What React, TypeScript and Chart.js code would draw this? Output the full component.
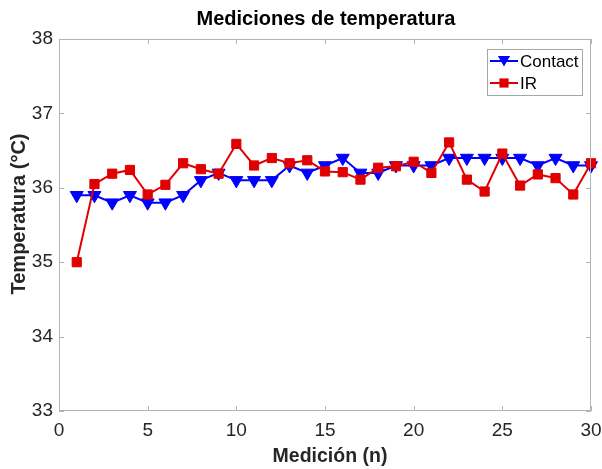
import React, { useEffect, useRef } from "react";
import { Chart, registerables } from "chart.js";

Chart.register(...registerables);

const measurements: number[] = Array.from({ length: 30 }, (_, i) => i + 1);
const contactTemps: number[] = [
  35.9, 35.9, 35.8, 35.9, 35.8, 35.8, 35.9, 36.1, 36.2, 36.1,
  36.1, 36.1, 36.3, 36.2, 36.3, 36.4, 36.2, 36.2, 36.3, 36.3,
  36.3, 36.4, 36.4, 36.4, 36.4, 36.4, 36.3, 36.4, 36.3, 36.3,
];
const irTemps: number[] = [
  35.0, 36.05, 36.19, 36.24, 35.91, 36.04, 36.33, 36.25, 36.19, 36.59,
  36.3, 36.4, 36.33, 36.37, 36.22, 36.21, 36.11, 36.27, 36.29, 36.35,
  36.2, 36.61, 36.11, 35.95, 36.46, 36.03, 36.18, 36.13, 35.91, 36.33,
];
const xTicks: number[] = [0, 5, 10, 15, 20, 25, 30];
const yTicks: number[] = [33, 34, 35, 36, 37, 38];
const seriesNames: string[] = ["Contact", "IR"];
const chartTitle = "Mediciones de temperatura";
const xTitle = "Medición (n)";
const yTitle = "Temperatura (°C)";

const FONT = "'Liberation Sans', Arial, Helvetica, sans-serif";
const BLUE = "#0000ff";
const RED = "#e00000";
const AXIS = "#b3b3b3";
const TEXT = "#262626";

const framePlugin = {
  id: "matlabFrame",
  afterDraw(chart: any) {
    const { ctx, chartArea } = chart;
    const { left, right, top, bottom } = chartArea;
    const xs = chart.scales.x;
    const ys = chart.scales.y;
    ctx.save();
    ctx.strokeStyle = AXIS;
    ctx.lineWidth = 1;
    ctx.beginPath();
    ctx.moveTo(left + 0.5, top + 0.5);
    ctx.lineTo(right - 0.5, top + 0.5);
    ctx.lineTo(right - 0.5, bottom - 0.5);
    ctx.moveTo(left + 0.5, top + 0.5);
    ctx.lineTo(left + 0.5, bottom - 0.5);
    ctx.lineTo(right - 0.5, bottom - 0.5);
    const tl = 5;
    xTicks.forEach((v) => {
      const px = Math.round(xs.getPixelForValue(v)) + 0.5;
      ctx.moveTo(px, bottom);
      ctx.lineTo(px, bottom - tl);
      ctx.moveTo(px, top);
      ctx.lineTo(px, top + tl);
    });
    yTicks.forEach((v) => {
      const py = Math.round(ys.getPixelForValue(v)) + 0.5;
      ctx.moveTo(left, py);
      ctx.lineTo(left + tl, py);
      ctx.moveTo(right, py);
      ctx.lineTo(right - tl, py);
    });
    ctx.stroke();

    // titles
    ctx.textBaseline = "alphabetic";
    ctx.textAlign = "center";
    ctx.fillStyle = "#000000";
    ctx.font = `bold 20px ${FONT}`;
    ctx.fillText(chartTitle, 326, 25);
    ctx.fillStyle = TEXT;
    ctx.font = `bold 19.5px ${FONT}`;
    ctx.fillText(xTitle, 330, 462);
    ctx.save();
    ctx.translate(25, 214);
    ctx.rotate(-Math.PI / 2);
    ctx.font = `bold 20px ${FONT}`;
    ctx.fillText(yTitle, 0, 0);
    ctx.restore();

    // legend box
    const bx = 487, by = 49, bw = 95, bh = 46;
    ctx.fillStyle = "#ffffff";
    ctx.fillRect(bx, by, bw, bh);
    ctx.strokeStyle = "#a6a6a6";
    ctx.lineWidth = 1;
    ctx.strokeRect(bx + 0.5, by + 0.5, bw, bh);
    const rows = [
      { name: seriesNames[0], color: BLUE, style: "triangle", r: 7, y: 61 },
      { name: seriesNames[1], color: RED, style: "rect", r: 6.5, y: 83 },
    ];
    rows.forEach((row) => {
      ctx.strokeStyle = row.color;
      ctx.lineWidth = 2;
      ctx.beginPath();
      ctx.moveTo(490, row.y);
      ctx.lineTo(518, row.y);
      ctx.stroke();
      ctx.fillStyle = row.color;
      if (row.style === "triangle") {
        const cx = 504, cy = row.y - 1.5;
        const r = row.r;
        ctx.beginPath();
        ctx.moveTo(cx, cy + r);
        ctx.lineTo(cx - r * 0.866, cy - r / 2);
        ctx.lineTo(cx + r * 0.866, cy - r / 2);
        ctx.closePath();
        ctx.fill();
      } else {
        const s = row.r * Math.SQRT1_2;
        ctx.fillRect(504 - s, row.y - s, 2 * s, 2 * s);
      }
      ctx.fillStyle = "#000000";
      ctx.font = `17px ${FONT}`;
      ctx.textAlign = "left";
      ctx.textBaseline = "middle";
      ctx.fillText(row.name, 520, row.y + 1);
    });
    ctx.restore();
  },
};

export default function App() {
  const canvasRef = useRef<HTMLCanvasElement | null>(null);

  useEffect(() => {
    document.body.style.margin = "0";
    const canvas = canvasRef.current;
    if (!canvas) return;
    const chart = new Chart(canvas, {
      type: "line",
      data: {
        labels: measurements,
        datasets: [
          {
            label: seriesNames[1],
            data: measurements.map((m, i) => ({ x: m, y: irTemps[i] })),
            borderColor: RED,
            backgroundColor: RED,
            borderWidth: 2,
            pointStyle: "rect",
            pointRadius: 6.5,
            pointBorderWidth: 1,
            pointBackgroundColor: RED,
            pointBorderColor: RED,
            tension: 0,
            clip: false,
          },
          {
            label: seriesNames[0],
            data: measurements.map((m, i) => ({ x: m, y: contactTemps[i] })),
            borderColor: BLUE,
            backgroundColor: BLUE,
            borderWidth: 2,
            pointStyle: "triangle",
            pointRotation: 180,
            pointRadius: 7.5,
            pointBorderWidth: 1,
            pointBackgroundColor: BLUE,
            pointBorderColor: BLUE,
            tension: 0,
            clip: false,
          },
        ],
      },
      options: {
        animation: false,
        responsive: true,
        maintainAspectRatio: false,
        layout: { padding: { left: 0, right: 11, top: 39, bottom: 0 } },
        plugins: {
          legend: { display: false },
          tooltip: { enabled: false },
          title: { display: false },
        },
        scales: {
          x: {
            type: "linear",
            min: 0,
            max: 30,
            afterBuildTicks: (scale: any) => {
              scale.ticks = xTicks.map((v) => ({ value: v }));
            },
            afterFit: (scale: any) => {
              scale.height = 58;
              scale.paddingLeft = 0;
              scale.paddingRight = 0;
            },
            grid: { display: false, drawTicks: false },
            border: { display: false },
            ticks: {
              color: TEXT,
              font: { family: FONT, size: 19, lineHeight: 1.2 },
              padding: 8,
              maxRotation: 0,
              autoSkip: false,
            },
            title: { display: false },
          },
          y: {
            type: "linear",
            min: 33,
            max: 38,
            afterBuildTicks: (scale: any) => {
              scale.ticks = yTicks.map((v) => ({ value: v }));
            },
            afterFit: (scale: any) => {
              scale.width = 59;
              scale.paddingTop = 0;
              scale.paddingBottom = 0;
            },
            grid: { display: false, drawTicks: false },
            border: { display: false },
            ticks: {
              color: TEXT,
              font: { family: FONT, size: 19, lineHeight: 1.2 },
              padding: 6,
              autoSkip: false,
            },
            title: { display: false },
          },
        },
      },
      plugins: [framePlugin],
    });
    return () => chart.destroy();
  }, []);

  return (
    <div style={{ position: "absolute", left: 0, top: 0, width: 602, height: 469, background: "#ffffff" }}>
      <canvas ref={canvasRef} />
    </div>
  );
}
